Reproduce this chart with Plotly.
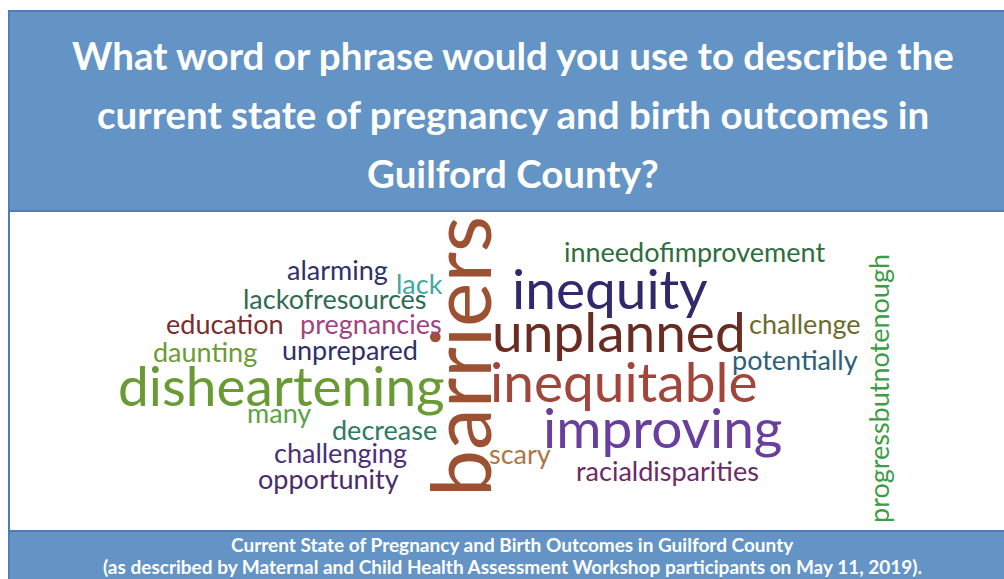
import plotly.graph_objects as go

# ---- data ----
words = ["barriers", "inequity", "unplanned", "inequitable", "improving", "disheartening",
         "inneedofimprovement", "challenge", "potentially", "scary", "racialdisparities",
         "progressbutnotenough", "alarming", "lack", "lackofresources", "education",
         "pregnancies", "daunting", "unprepared", "many", "decrease", "challenging", "opportunity"]
weights = [3, 2, 2, 2, 2, 2, 1, 1, 1, 1, 1, 1, 1, 1, 1, 1, 1, 1, 1, 1, 1, 1, 1]
word_x = [458, 610, 619, 623, 662, 281, 694, 805, 795, 520, 667, 878, 337, 419, 335, 225,
          371, 205, 350, 279, 384, 340, 328]
word_y = [357, 288, 331, 381, 427, 385, 251, 323, 359, 453, 470, 389, 269, 283, 298, 323,
          323, 351, 349, 412, 429, 452, 478]
word_angle = [-90, 0, 0, 0, 0, 0, 0, 0, 0, 0, 0, -90, 0, 0, 0, 0, 0, 0, 0, 0, 0, 0, 0]
word_colors = ["#9C5232", "#30296B", "#6A2C22", "#A2453A", "#6A3E9E", "#6A9A33",
               "#2E6E3C", "#6D6B2C", "#2F5E78", "#AE7644", "#6C2B67",
               "#3D9C45", "#2F2F6C", "#3FA9A0", "#2E6B52", "#7A2D2E",
               "#A2437F", "#6D9B35", "#2F2F6C", "#5BA346", "#2E7A62", "#4B2F7A", "#4A2B6B"]

title_lines = ["What word or phrase would you use to describe the",
               "current state of pregnancy and birth outcomes in",
               "Guilford County?"]
footer_lines = ["Current State of Pregnancy and Birth Outcomes in Guilford County",
                "(as described by Maternal and Child Health Assessment Workshop participants on May 11, 2019)."]

size_map = {3: 84, 2: 55, 1: 27}

W, H = 1004, 579
fig = go.Figure()
fig.add_trace(go.Scatter(x=[0, W], y=[0, H], mode="markers", marker=dict(opacity=0),
                         hoverinfo="skip", showlegend=False))

band = "#6394C5"
edge = "#4F7DBB"
shapes = [
    dict(type="rect", xref="x", yref="y", x0=9, x1=W + 5, y0=11, y1=211,
         fillcolor=band, line=dict(color=edge, width=2), layer="below"),
    dict(type="rect", xref="x", yref="y", x0=9, x1=W + 5, y0=211, y1=531,
         fillcolor="white", line=dict(color=edge, width=2), layer="below"),
    dict(type="rect", xref="x", yref="y", x0=9, x1=W + 5, y0=531, y1=H + 5,
         fillcolor=band, line=dict(color=edge, width=2), layer="below"),
]

annotations = []
for i, line in enumerate(title_lines):
    annotations.append(dict(x=513, y=55 + i * 59, xref="x", yref="y", text=line,
                            showarrow=False, xanchor="center", yanchor="middle",
                            font=dict(family="Lato", size=38.5, color="white", weight="bold")))
for i, line in enumerate(footer_lines):
    annotations.append(dict(x=512, y=544 + i * 22, xref="x", yref="y", text=line,
                            showarrow=False, xanchor="center", yanchor="middle",
                            font=dict(family="Lato", size=19, color="white", weight="bold")))

for w, wt, x, y, a, c in zip(words, weights, word_x, word_y, word_angle, word_colors):
    annotations.append(dict(x=x, y=y, xref="x", yref="y", text=w, showarrow=False,
                            textangle=a, xanchor="center", yanchor="middle",
                            font=dict(family="Lato", size=size_map[wt], color=c)))

fig.update_layout(
    width=W, height=H, margin=dict(l=0, r=0, t=0, b=0),
    paper_bgcolor="white", plot_bgcolor="white",
    xaxis=dict(range=[0, W], visible=False, fixedrange=True),
    yaxis=dict(range=[H, 0], visible=False, fixedrange=True),
    shapes=shapes, annotations=annotations, showlegend=False,
)
fig.write_html("out.html", config={"displayModeBar": False},
               post_script="document.body.style.margin='0px';document.body.style.overflow='hidden';")
